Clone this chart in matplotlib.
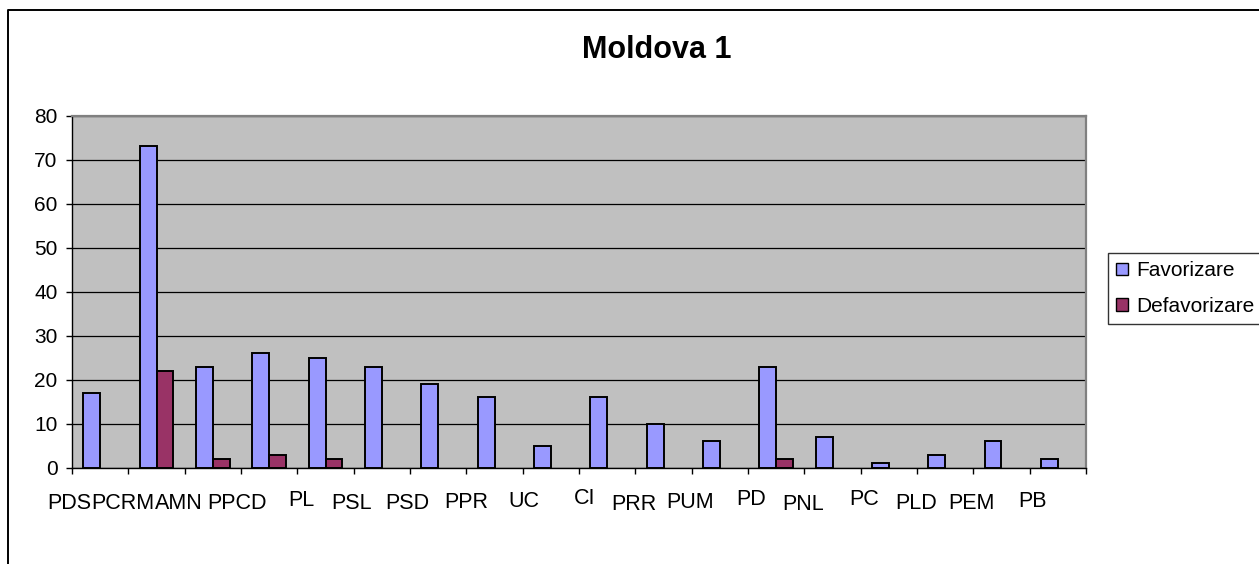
import numpy as np
import matplotlib.pyplot as plt
from matplotlib.patches import Patch
from matplotlib.lines import Line2D

# ---- data ----
partide = ["PDS", "PCRM", "AMN", "PPCD", "PL", "PSL", "PSD", "PPR", "UC",
           "CI", "PRR", "PUM", "PD", "PNL", "PC", "PLD", "PEM", "PB"]
favorizare = [17, 73, 23, 26, 25, 23, 19, 16, 5, 16, 10, 6, 23, 7, 1, 3, 6, 2]
defavorizare = [0, 22, 2, 3, 2, 0, 0, 0, 0, 0, 0, 0, 2, 0, 0, 0, 0, 0]

# Excel staggers the category labels a little (px offsets, layout only)
lbl_dx = [-3, -5.5, -6, -4, 4, -2, -2.5, -0.5, 1, 6, -1.5, -2, 3, -1, 3, -1, -1.5, 3]
lbl_dy = [0, 0, 0, 0, 2.5, 0, 0, 1, 2, 5, -1, 1, 4, -1, 4, 0, 0, 2]

C_FAV = "#9999FF"
C_DEF = "#993366"
C_BG = "#C0C0C0"

plt.rcParams["font.family"] = ["Liberation Sans", "DejaVu Sans"]

W, H = 1259, 564
fig = plt.figure(figsize=(W / 100, H / 100), dpi=100)
fig.patch.set_facecolor("white")

# axes in pixel layout
left, right, top, bottom = 72, 1086, 115.7, 467.7
ax = fig.add_axes([left / W, 1 - bottom / H, (right - left) / W, (bottom - top) / H])
ax.set_facecolor(C_BG)

x = np.arange(len(partide))
bw = 0.30
b1 = ax.bar(x - bw, favorizare, width=bw, align="edge", color=C_FAV,
            edgecolor="black", linewidth=1.4, zorder=3)
b2 = ax.bar(x, defavorizare, width=bw, align="edge", color=C_DEF,
            edgecolor="black", linewidth=1.4, zorder=3)
for p in list(b1) + list(b2):
    if p.get_height() == 0:
        p.set_visible(False)

ax.set_xlim(-0.5, len(partide) - 0.5)
ax.set_ylim(0, 80)
ax.set_yticks(np.arange(0, 81, 10))
ax.yaxis.grid(True, color="black", linewidth=0.9, zorder=1)
ax.set_axisbelow(True)

ax.set_xticks(np.arange(len(partide) + 1) - 0.5)
ax.set_xticklabels([])
ax.tick_params(axis="both", direction="out", length=4.3, width=1.0,
               color="black", labelsize=15)
ax.tick_params(axis="y", pad=6)

for s in ["top", "right"]:
    ax.spines[s].set_color("#808080")
    ax.spines[s].set_linewidth(1.6)
for s in ["left", "bottom"]:
    ax.spines[s].set_color("black")
    ax.spines[s].set_linewidth(1.0)

for i, name in enumerate(partide):
    ax.annotate(name, xy=(i - 0.5, 0), xycoords=("data", "axes fraction"),
                xytext=(lbl_dx[i], -41 + lbl_dy[i]), textcoords="offset pixels",
                ha="center", va="baseline", fontsize=15.5, annotation_clip=False)

fig.text(657 / W, 1 - 58 / H, "Moldova 1", ha="center", va="baseline",
         fontsize=22, fontweight="bold")

handles = [Patch(facecolor=C_FAV, edgecolor="black", linewidth=1.0, label="Favorizare"),
           Patch(facecolor=C_DEF, edgecolor="black", linewidth=1.0, label="Defavorizare")]
leg = fig.legend(handles=handles, loc="upper left",
                 bbox_to_anchor=(1108 / W, 1 - 253 / H), borderaxespad=0,
                 fontsize=15, frameon=True, fancybox=False,
                 handlelength=0.55, handleheight=0.55, handletextpad=0.4,
                 borderpad=0.4, labelspacing=0.8)
leg.get_frame().set_edgecolor("black")
leg.get_frame().set_linewidth(1.0)

# outer chart border (only top and left visible in the crop)
fig.add_artist(Line2D([8 / W, 8 / W, 1.0], [0.0, 1 - 10 / H, 1 - 10 / H],
                      transform=fig.transFigure, color="black", linewidth=1.4))

fig.savefig("out.png", dpi=100)
